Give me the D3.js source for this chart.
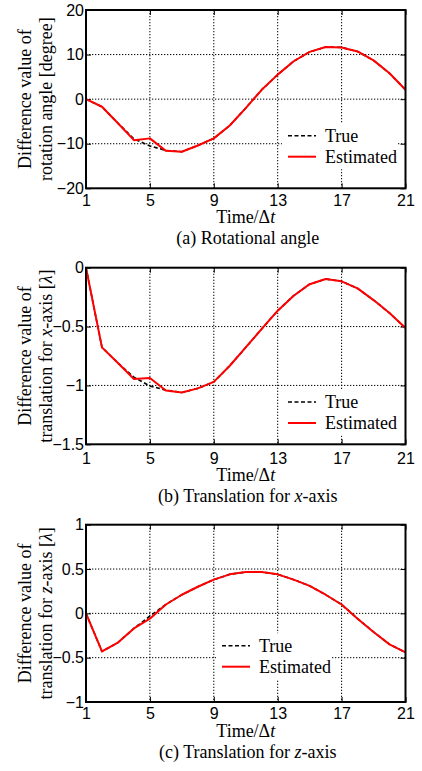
<!DOCTYPE html>
<html>
<head>
<meta charset="utf-8">
<script src="https://cdn.jsdelivr.net/npm/d3@7"></script>
<style>
  html, body { margin: 0; padding: 0; background: #fff; }
  svg { display: block; }
</style>
</head>
<body>
<svg id="fig" width="422" height="771"></svg>
<script>
// Time steps (in units of Δt)
const timeSteps = [1, 2, 3, 4, 5, 6, 7, 8, 9, 10, 11, 12, 13, 14, 15, 16, 17, 18, 19, 20, 21];
const xTickValues = [1, 5, 9, 13, 17, 21];

// (a) rotation angle difference [degree]
const rotTrue = [0, -1.7, -5.4, -8.9, -10.5, -11.5, -11.8, -10.4, -8.8, -5.9, -2.0, 2.1, 5.5, 8.5, 10.6, 11.7, 11.6, 10.7, 8.7, 5.8, 2.1];
const rotEst  = [0, -1.7, -5.4, -9.2, -8.8, -11.6, -11.8, -10.4, -8.8, -5.9, -2.0, 2.1, 5.5, 8.5, 10.6, 11.7, 11.6, 10.7, 8.7, 5.8, 2.1];
const rotTicks = [-20, -10, 0, 10, 20];

// (b) translation difference along x [λ]
const xTrue = [0, -0.677, -0.81, -0.93, -1.005, -1.04, -1.06, -1.025, -0.97, -0.833, -0.677, -0.52, -0.365, -0.238, -0.14, -0.096, -0.116, -0.176, -0.275, -0.385, -0.513];
const xEst  = [0, -0.677, -0.81, -0.946, -0.937, -1.043, -1.06, -1.025, -0.97, -0.833, -0.677, -0.52, -0.365, -0.238, -0.14, -0.096, -0.116, -0.176, -0.275, -0.385, -0.513];
const xTicks = [-1.5, -1, -0.5, 0];

// (c) translation difference along z [λ]
const zTrue = [0, -0.43, -0.33, -0.17, -0.03, 0.10, 0.21, 0.30, 0.38, 0.44, 0.466, 0.466, 0.44, 0.38, 0.31, 0.21, 0.10, -0.06, -0.21, -0.35, -0.44];
const zEst  = [0, -0.43, -0.33, -0.17, -0.06, 0.10, 0.21, 0.30, 0.38, 0.44, 0.466, 0.466, 0.44, 0.38, 0.31, 0.21, 0.10, -0.06, -0.21, -0.35, -0.44];
const zTicks = [-1, -0.5, 0, 0.5, 1];

const seriesNames = ["True", "Estimated"];

// Text pieces: [string, italic?]
const panels = [
  {
    trueVals: rotTrue, estVals: rotEst, ticks: rotTicks, domain: [-20, 20],
    ylabel: [[["Difference value of", false]], [["rotation angle [degree]", false]]],
    title: [["(a) Rotational angle", false]],
    top: 10, bottom: 188.3, legendX: 282, legendY: 135.7, shift: 0
  },
  {
    trueVals: xTrue, estVals: xEst, ticks: xTicks, domain: [-1.5, 0],
    ylabel: [[["Difference value of", false]], [["translation for ", false], ["x", true], ["-axis [", false], ["λ", true], ["]", false]]],
    title: [["(b) Translation for ", false], ["x", true], ["-axis", false]],
    top: 267.7, bottom: 444.3, legendX: 282, legendY: 402, shift: 2
  },
  {
    trueVals: zTrue, estVals: zEst, ticks: zTicks, domain: [-1, 1],
    ylabel: [[["Difference value of", false]], [["translation for ", false], ["z", true], ["-axis [", false], ["λ", true], ["]", false]]],
    title: [["(c) Translation for ", false], ["z", true], ["-axis", false]],
    top: 524.7, bottom: 702, legendX: 216, legendY: 645.7, shift: 0
  }
];

const svg = d3.select("#fig");
const left = 86, right = 405.5;
const serif = "'Liberation Serif', 'Times New Roman', Times, 'DejaVu Serif', serif";
const sans = "'Liberation Sans', Arial, sans-serif";
const fmt = d3.format("~g");

function addPieces(textSel, pieces) {
  pieces.forEach(([s, it]) => {
    textSel.append("tspan").text(s).attr("font-style", it ? "italic" : "normal");
  });
}

panels.forEach(p => {
  const x = d3.scaleLinear().domain([1, 21]).range([left, right]);
  const y = d3.scaleLinear().domain(p.domain).range([p.bottom, p.top]);
  const g = svg.append("g");

  // dotted grid
  g.append("g").selectAll("line").data(xTickValues.slice(1, -1)).join("line")
    .attr("x1", d => x(d)).attr("x2", d => x(d))
    .attr("y1", p.top).attr("y2", p.bottom)
    .attr("stroke", "#000").attr("stroke-width", 1).attr("stroke-dasharray", "1.3,1.7");
  g.append("g").selectAll("line").data(p.ticks.slice(1, -1)).join("line")
    .attr("x1", left).attr("x2", right)
    .attr("y1", d => y(d)).attr("y2", d => y(d))
    .attr("stroke", "#000").attr("stroke-width", 1).attr("stroke-dasharray", "1.3,1.7");

  // axes with inward ticks on all four sides
  const axB = d3.axisBottom(x).tickValues(xTickValues).tickSizeInner(-5).tickSizeOuter(0).tickPadding(9).tickFormat(fmt);
  const axL = d3.axisLeft(y).tickValues(p.ticks).tickSizeInner(-5).tickSizeOuter(0).tickPadding(9).tickFormat(fmt);
  const axT = d3.axisTop(x).tickValues(xTickValues).tickSizeInner(-5).tickSizeOuter(0).tickFormat("");
  const axR = d3.axisRight(y).tickValues(p.ticks).tickSizeInner(-5).tickSizeOuter(0).tickFormat("");

  const gb = g.append("g").attr("transform", `translate(0,${p.bottom})`).call(axB);
  const gl = g.append("g").attr("transform", `translate(${left},0)`).call(axL);
  g.append("g").attr("transform", `translate(0,${p.top})`).call(axT);
  g.append("g").attr("transform", `translate(${right},0)`).call(axR);
  g.selectAll(".domain").remove();
  g.selectAll(".tick line").attr("stroke", "#000").attr("stroke-width", 1);
  gb.selectAll("text").attr("font-family", sans).attr("font-size", 16).attr("fill", "#000")
    .attr("dy", "0.71em").attr("y", 6 + p.shift);
  gl.selectAll("text").attr("font-family", sans).attr("font-size", 16).attr("fill", "#000").attr("x", -2);

  // legend (white box hides grid underneath)
  const lg = g.append("g");
  lg.append("rect").attr("x", p.legendX).attr("y", p.legendY - 12.5)
    .attr("width", 116).attr("height", 46).attr("fill", "#fff");

  // series
  const line = d3.line().x((d, i) => x(timeSteps[i])).y(d => y(d));
  g.append("path").datum(p.trueVals).attr("d", line)
    .attr("fill", "none").attr("stroke", "#000").attr("stroke-width", 1.6)
    .attr("stroke-dasharray", "4,2.5");
  g.append("path").datum(p.estVals).attr("d", line)
    .attr("fill", "none").attr("stroke", "#ff0000").attr("stroke-width", 2)
    .attr("stroke-linejoin", "round");

  seriesNames.forEach((name, i) => {
    const ly = p.legendY + i * 21;
    const lx = p.legendX + 6;
    lg.append("line").attr("x1", lx).attr("x2", lx + 28).attr("y1", ly).attr("y2", ly)
      .attr("stroke", i === 0 ? "#000" : "#ff0000")
      .attr("stroke-width", i === 0 ? 1.6 : 2)
      .attr("stroke-dasharray", i === 0 ? "4,2.5" : null);
    lg.append("text").attr("x", lx + 37).attr("y", ly).attr("dy", "0.35em")
      .attr("font-family", serif).attr("font-size", 18).attr("fill", "#000").text(name);
  });

  // frame
  g.append("rect").attr("x", left).attr("y", p.top)
    .attr("width", right - left).attr("height", p.bottom - p.top)
    .attr("fill", "none").attr("stroke", "#000").attr("stroke-width", 2);

  // x-axis title
  const xt = g.append("text").attr("x", (left + right) / 2).attr("y", p.bottom + 35 + p.shift)
    .attr("text-anchor", "middle").attr("font-family", serif).attr("font-size", 18).attr("fill", "#000");
  addPieces(xt, [["Time/Δ", false], ["t", true]]);

  // caption
  const ct = g.append("text").attr("x", (left + right) / 2 + 2).attr("y", p.bottom + 56 + p.shift)
    .attr("text-anchor", "middle").attr("font-family", serif).attr("font-size", 18).attr("fill", "#000");
  addPieces(ct, p.title);

  // y-axis title (two lines)
  const cy = (p.top + p.bottom) / 2;
  p.ylabel.forEach((pieces, i) => {
    const t = g.append("text")
      .attr("transform", `translate(${31 + i * 21},${cy}) rotate(-90)`)
      .attr("text-anchor", "middle").attr("font-family", serif).attr("font-size", 18).attr("fill", "#000");
    addPieces(t, pieces);
  });
});
</script>
</body>
</html>
